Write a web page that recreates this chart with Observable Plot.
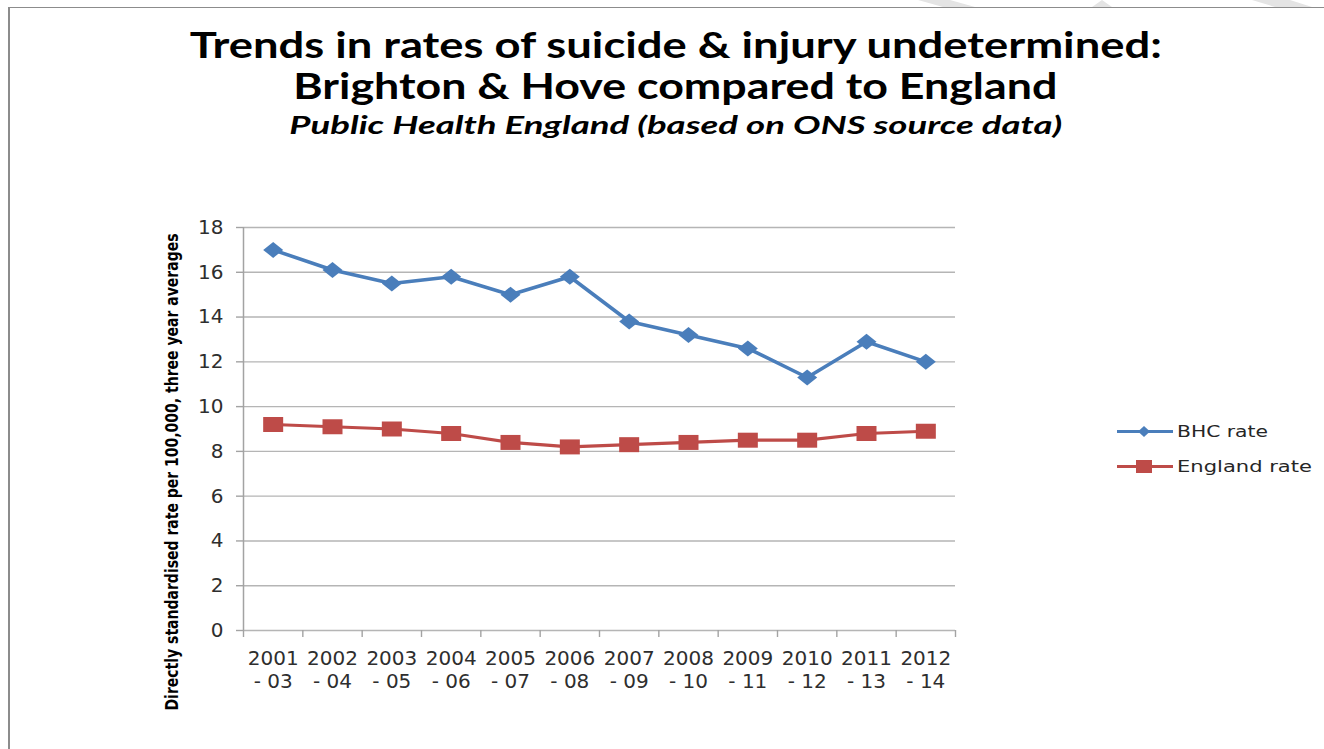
<!DOCTYPE html>
<html>
<head>
<meta charset="utf-8">
<script src="https://cdn.jsdelivr.net/npm/d3@7"></script>
<script src="https://cdn.jsdelivr.net/npm/@observablehq/plot@0.6"></script>
<style>
html, body { margin: 0; padding: 0; background: #fff; width: 1324px; height: 749px; overflow: hidden; position: relative; }
#frame { position: absolute; left: 8px; top: 7px; width: 1400px; height: 800px; border-left: 2.5px solid #8c8c8c; border-top: 1.5px solid #8c8c8c; }
#deco { position: absolute; left: 0; top: 0; }
.t { position: absolute; width: 1324px; text-align: center; white-space: nowrap; font-family: Lato, "Open Sans", sans-serif; color: #000; font-weight: bold; }
.t span { display: inline-block; transform-origin: 50% 50%; }
#t1 { left: 14px; top: 26px; font-size: 36px; line-height: 36px; }
#t2 { left: 13px; top: 67px; font-size: 36px; line-height: 36px; }
#t3 { left: 13.5px; top: 113px; font-size: 24px; line-height: 24px; font-style: italic; }
#chart { position: absolute; left: 0; top: 200px; }
#legend { position: absolute; left: 1100px; top: 410px; }
</style>
</head>
<body>
<div id="frame"></div>
<svg id="deco" width="1324" height="10"></svg>
<div class="t" id="t1"><span></span></div>
<div class="t" id="t2"><span></span></div>
<div class="t" id="t3"><span></span></div>
<div id="chart"></div>
<div id="legend"></div>
<script>
// ---------- data ----------
const titleLine1 = "Trends in rates of suicide & injury undetermined:";
const titleLine2 = "Brighton & Hove compared to England";
const subtitle = "Public Health England (based on ONS source data)";
const yLabel = "Directly standardised rate per 100,000, three year averages";

const periodStart = ["2001", "2002", "2003", "2004", "2005", "2006", "2007", "2008", "2009", "2010", "2011", "2012"];
const periodEnd = ["- 03", "- 04", "- 05", "- 06", "- 07", "- 08", "- 09", "- 10", "- 11", "- 12", "- 13", "- 14"];
const bhcRate = [17.0, 16.1, 15.5, 15.8, 15.0, 15.8, 13.8, 13.2, 12.6, 11.3, 12.9, 12.0];
const englandRate = [9.2, 9.1, 9.0, 8.8, 8.4, 8.2, 8.3, 8.4, 8.5, 8.5, 8.8, 8.9];
const yTicks = [0, 2, 4, 6, 8, 10, 12, 14, 16, 18];
const seriesNames = ["BHC rate", "England rate"];

// ---------- styles ----------
const blue = "#4a7ebb";
const red = "#be4b48";
const gridColor = "#b5b5b5";
const axisColor = "#a3a3a3";
const tickText = "#2e2e2e";

const rows = periodStart.map((p, i) => ({i, top: p, bottom: periodEnd[i], bhc: bhcRate[i], eng: englandRate[i]}));
const xPos = d => d.i + 0.5;

// custom (horizontally stretched) markers
const diamondSym = {draw(ctx) { ctx.moveTo(-10, 0); ctx.lineTo(0, -8); ctx.lineTo(10, 0); ctx.lineTo(0, 8); ctx.closePath(); }};
const squareSym = {draw(ctx) { ctx.moveTo(-10, -7.5); ctx.lineTo(10, -7.5); ctx.lineTo(10, 7.5); ctx.lineTo(-10, 7.5); ctx.closePath(); }};

// ---------- titles ----------
function setTitle(id, text, width) {
  const span = document.querySelector("#" + id + " span");
  span.textContent = text;
  const w = span.getBoundingClientRect().width;
  span.style.transform = `scaleX(${width / w})`;
}
setTitle("t1", titleLine1, 972);
setTitle("t2", titleLine2, 764);
setTitle("t3", subtitle, 773);

// ---------- chart ----------
const chart = Plot.plot({
  width: 1324,
  height: 540,
  marginTop: 27,
  marginBottom: 110,
  marginLeft: 243,
  marginRight: 369,
  style: {fontFamily: "DejaVu Sans, sans-serif", fontSize: "20px", background: "transparent", overflow: "visible"},
  x: {type: "linear", domain: [0, periodStart.length], axis: null},
  y: {domain: [0, 18], axis: null},
  marks: [
    Plot.gridY(yTicks, {stroke: gridColor, strokeOpacity: 1, strokeWidth: 1.4}),
    Plot.axisY(yTicks, {tickSize: 7, tickPadding: 13, stroke: axisColor, strokeWidth: 1.4, color: tickText, fontSize: 20, label: null, tickFormat: d => String(d)}),
    Plot.axisX(d3.range(periodStart.length + 1), {tickSize: 7, stroke: axisColor, strokeWidth: 1.4, tickFormat: () => "", label: null}),
    Plot.ruleX([0], {stroke: axisColor, strokeWidth: 1.5}),
    Plot.text(rows, {x: xPos, frameAnchor: "bottom", text: d => d.top + "\n" + d.bottom, lineAnchor: "top", dy: 18, lineHeight: 1.15, fontSize: 20, fill: tickText}),
    Plot.text([yLabel], {frameAnchor: "left", rotate: -90, textAnchor: "start", dx: -71, dy: 281.5, fontWeight: "bold", fontSize: 17, fontFamily: "Liberation Sans Narrow, DejaVu Sans Condensed, sans-serif", fill: "#000"}),
    Plot.line(rows, {x: xPos, y: "eng", stroke: red, strokeWidth: 3.2}),
    Plot.dot(rows, {x: xPos, y: "eng", symbol: squareSym, r: 6, fill: red, stroke: "none"}),
    Plot.line(rows, {x: xPos, y: "bhc", stroke: blue, strokeWidth: 3.6}),
    Plot.dot(rows, {x: xPos, y: "bhc", symbol: diamondSym, r: 6, fill: blue, stroke: "none"})
  ]
});
document.getElementById("chart").appendChild(chart);
chart.querySelectorAll("text").forEach(t => {
  if (t.textContent === yLabel) { t.setAttribute("textLength", 477); t.setAttribute("lengthAdjust", "spacingAndGlyphs"); }
});

// ---------- legend ----------
const lg = d3.select("#legend").append("svg").attr("width", 224).attr("height", 80);
const legendItems = [
  {name: seriesNames[0], color: blue, y: 21.5, base: 27, len: 91, marker: "M-6,0L0,-5.5L6,0L0,5.5Z"},
  {name: seriesNames[1], color: red, y: 56.5, base: 62, len: 135, marker: "M-8,-6.5L8,-6.5L8,6.5L-8,6.5Z"}
];
legendItems.forEach(it => {
  lg.append("line").attr("x1", 17).attr("x2", 73).attr("y1", it.y).attr("y2", it.y).attr("stroke", it.color).attr("stroke-width", 3);
  lg.append("path").attr("d", it.marker).attr("transform", `translate(44,${it.y})`).attr("fill", it.color);
  lg.append("text").attr("x", 77).attr("y", it.base).text(it.name)
    .attr("font-family", "DejaVu Sans, sans-serif").attr("font-size", 16.5).attr("fill", "#262626")
    .attr("textLength", it.len).attr("lengthAdjust", "spacingAndGlyphs");
});

// ---------- decorative page marks (top right) ----------
const deco = d3.select("#deco");
[[[918, 0], [950, 0], [975, 7], [943, 7]], [[1092, 7], [1102, 0], [1112, 7]], [[1252, 0], [1290, 0], [1312, 7], [1275, 7]]]
  .forEach(p => deco.append("polygon").attr("points", p.map(q => q.join(",")).join(" ")).attr("fill", "#e4e4e4"));
</script>
</body>
</html>
